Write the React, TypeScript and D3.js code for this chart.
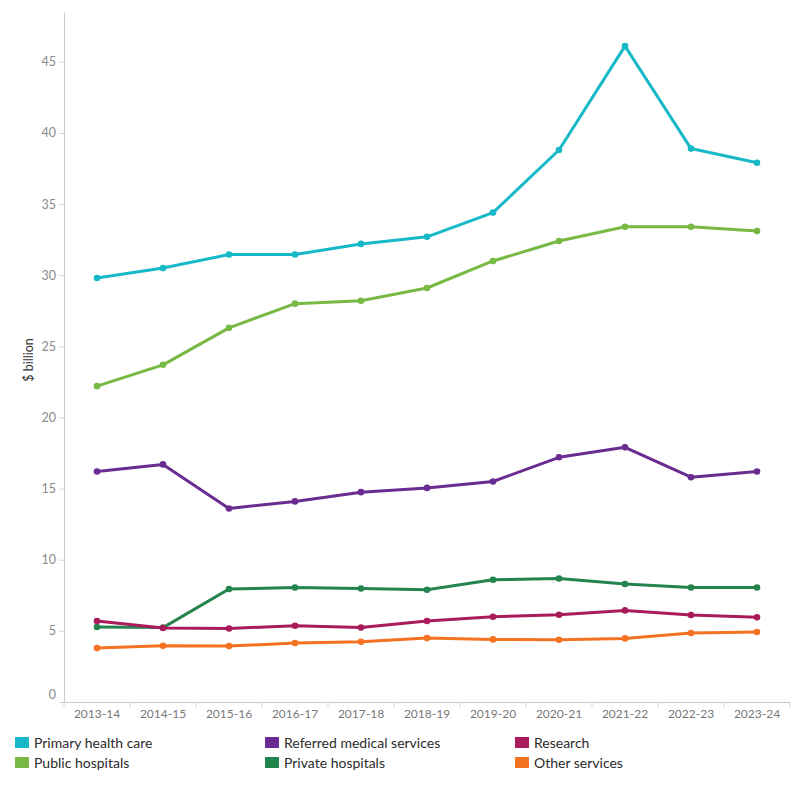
import React, { useEffect, useRef } from "react";
import * as d3 from "d3";

const years = [
  "2013-14", "2014-15", "2015-16", "2016-17", "2017-18", "2018-19",
  "2019-20", "2020-21", "2021-22", "2022-23", "2023-24",
];

const primaryHealthCare = [29.8, 30.5, 31.45, 31.45, 32.2, 32.7, 34.4, 38.8, 46.1, 38.9, 37.9];
const publicHospitals = [22.2, 23.7, 26.3, 28.0, 28.2, 29.1, 31.0, 32.4, 33.4, 33.4, 33.1];
const referredMedical = [16.2, 16.7, 13.6, 14.1, 14.75, 15.05, 15.5, 17.2, 17.9, 15.8, 16.2];
const privateHospitals = [5.27, 5.23, 7.94, 8.05, 7.98, 7.89, 8.59, 8.68, 8.29, 8.05, 8.05];
const research = [5.69, 5.2, 5.17, 5.36, 5.24, 5.69, 5.99, 6.13, 6.44, 6.11, 5.95];
const otherServices = [3.79, 3.95, 3.93, 4.14, 4.23, 4.49, 4.4, 4.38, 4.47, 4.85, 4.92];

const yTicks = [0, 5, 10, 15, 20, 25, 30, 35, 40, 45];

type Series = { name: string; color: string; values: number[] };

const series: Series[] = [
  { name: "Primary health care", color: "#17b9c8", values: primaryHealthCare },
  { name: "Public hospitals", color: "#78b943", values: publicHospitals },
  { name: "Referred medical services", color: "#6a2c91", values: referredMedical },
  { name: "Private hospitals", color: "#23844d", values: privateHospitals },
  { name: "Research", color: "#a91b5a", values: research },
  { name: "Other services", color: "#f47221", values: otherServices },
];

// legend order: row by row, three columns
const legendOrder = [
  "Primary health care", "Referred medical services", "Research",
  "Public hospitals", "Private hospitals", "Other services",
];

export default function App() {
  const ref = useRef<SVGSVGElement | null>(null);
  const width = 800;
  const height = 800;
  const marginLeft = 64;
  const marginRight = 10;
  const marginTop = 12;
  const plotBottom = 702;

  useEffect(() => {
    const svg = d3.select(ref.current);
    svg.selectAll("*").remove();

    const x = d3
      .scaleBand<string>()
      .domain(years)
      .range([marginLeft, width - marginRight]);

    const y = d3
      .scaleLinear()
      .domain([0, 48.5])
      .range([plotBottom, marginTop]);

    const font = "Lato, 'Open Sans', sans-serif";

    // y axis
    const yAxis = svg
      .append("g")
      .attr("transform", `translate(${marginLeft},0)`)
      .call(d3.axisLeft(y).tickValues(yTicks).tickSize(5).tickSizeOuter(0));
    yAxis.select(".domain").attr("stroke", "#c8c8c8");
    yAxis.selectAll(".tick line").attr("stroke", "#d4d4d4");
    yAxis
      .selectAll<SVGTextElement, number>(".tick text")
      .attr("fill", "#8a8a8a")
      .attr("font-family", font)
      .attr("font-size", 12.5)
      .attr("x", -8)
      .attr("dy", (d) => (d === 0 ? "-0.3em" : "0.32em"));

    // x axis
    const xAxis = svg
      .append("g")
      .attr("transform", `translate(0,${plotBottom})`)
      .call(d3.axisBottom(x).tickSize(0).tickSizeOuter(0));
    xAxis.select(".domain").attr("stroke", "#c8c8c8");
    xAxis
      .selectAll(".tick text")
      .attr("fill", "#777")
      .attr("font-family", font)
      .attr("font-size", 12)
      .attr("dy", "1.05em");

    // band separators below the x axis
    svg
      .append("g")
      .selectAll("line")
      .data(years.map((yr) => x(yr) as number).concat([x.range()[1]]))
      .join("line")
      .attr("x1", (d) => d)
      .attr("x2", (d) => d)
      .attr("y1", plotBottom)
      .attr("y2", plotBottom + 5)
      .attr("stroke", "#d4d4d4");

    // y axis title
    svg
      .append("text")
      .attr("transform", `translate(33,360) rotate(-90)`)
      .attr("text-anchor", "middle")
      .attr("font-family", font)
      .attr("font-size", 12.5)
      .attr("fill", "#333")
      .text("$ billion");

    const cx = (i: number) => (x(years[i]) as number) + x.bandwidth() / 2;
    const line = d3
      .line<number>()
      .x((_, i) => cx(i))
      .y((d) => y(d));

    const g = svg.append("g").selectAll("g").data(series).join("g");

    g.append("path")
      .attr("fill", "none")
      .attr("stroke", (d) => d.color)
      .attr("stroke-width", 3)
      .attr("stroke-linejoin", "round")
      .attr("d", (d) => line(d.values));

    g.selectAll("circle")
      .data((d) => d.values.map((v) => ({ v, color: d.color })))
      .join("circle")
      .attr("cx", (_, i) => cx(i))
      .attr("cy", (d) => y(d.v))
      .attr("r", 3.3)
      .attr("fill", (d) => d.color);

    // legend
    const colX = [15, 265, 515];
    const rowY = [737, 757];
    const legend = svg
      .append("g")
      .selectAll("g")
      .data(legendOrder)
      .join("g")
      .attr("transform", (_, i) => `translate(${colX[i % 3]},${rowY[Math.floor(i / 3)]})`);

    legend
      .append("rect")
      .attr("width", 14)
      .attr("height", 11)
      .attr("fill", (d) => series.find((s) => s.name === d)!.color);

    legend
      .append("text")
      .attr("x", 19)
      .attr("y", 10.5)
      .attr("font-family", font)
      .attr("font-size", 14)
      .attr("fill", "#2b2b2b")
      .text((d) => d);
  }, []);

  return (
    <div style={{ margin: -8 }}>
      <svg ref={ref} width={width} height={height}></svg>
    </div>
  );
}
